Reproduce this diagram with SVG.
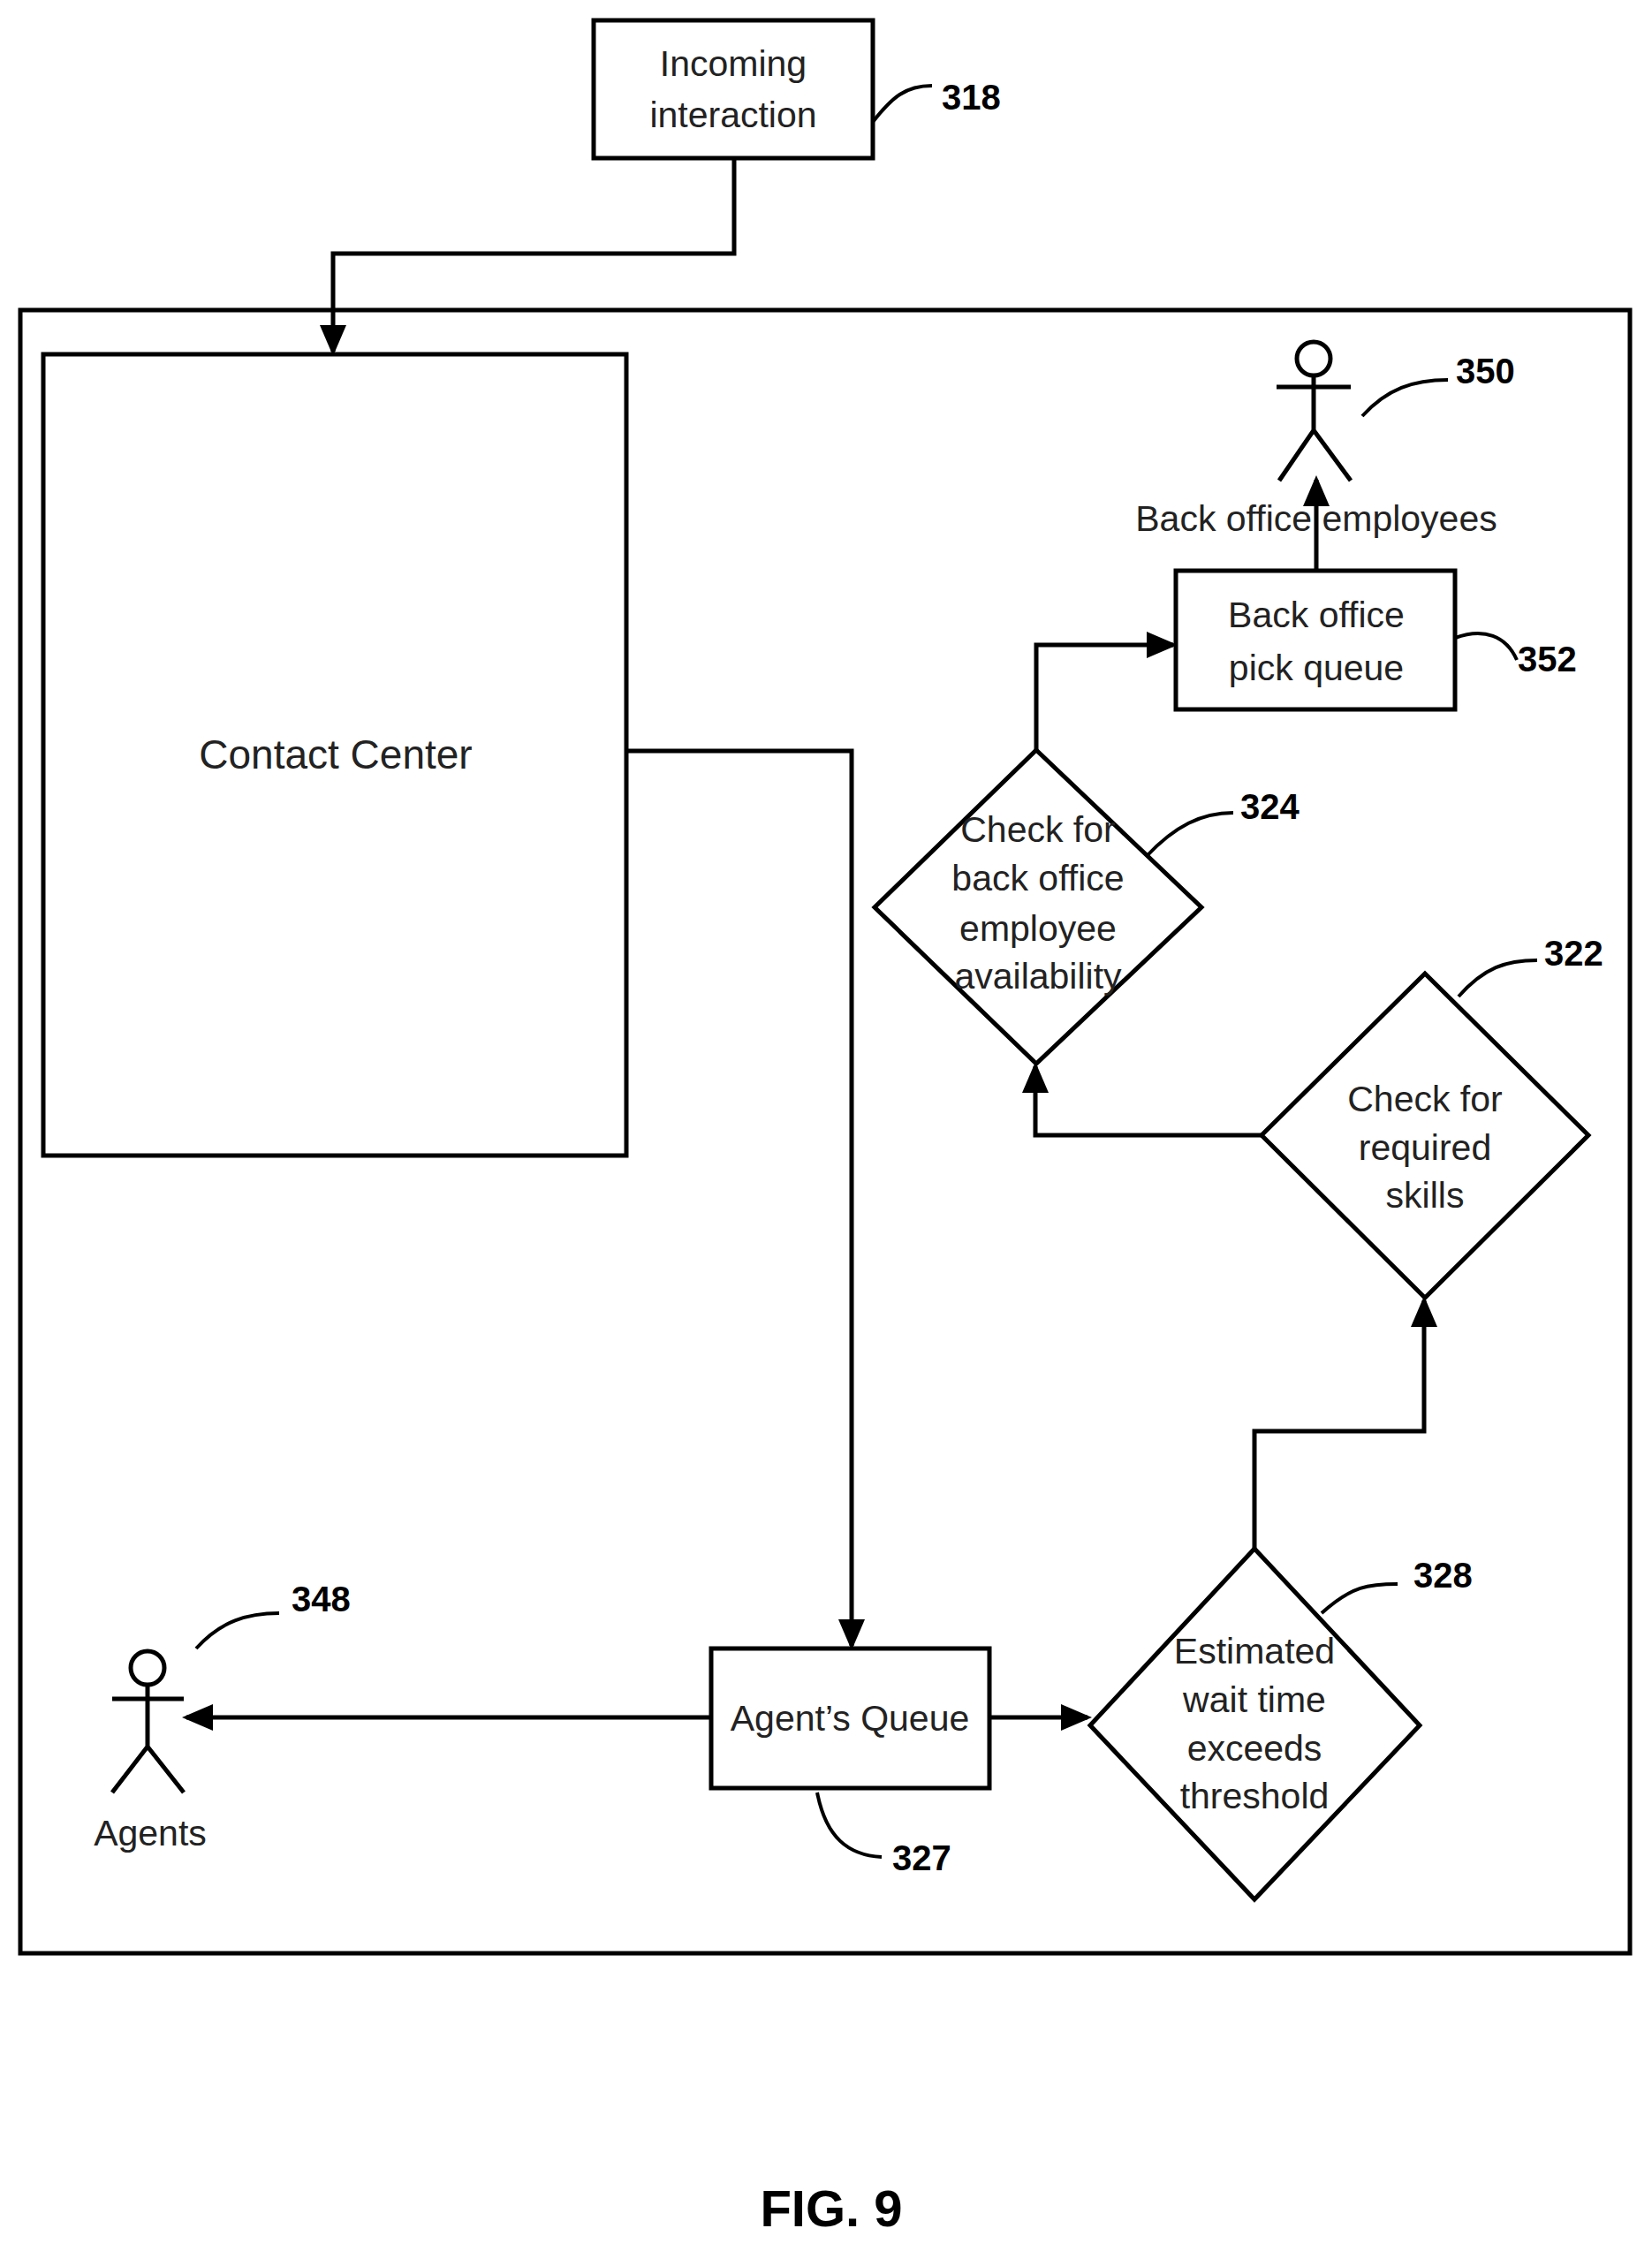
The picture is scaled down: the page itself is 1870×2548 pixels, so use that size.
<svg xmlns="http://www.w3.org/2000/svg" width="1870" height="2548" viewBox="0 0 1870 2548">
<style>
.s{fill:none;stroke:#000;stroke-width:5}
.b{fill:#fff;stroke:#000;stroke-width:5}
.t{font-family:"Liberation Sans Narrow","Liberation Sans",Arial,sans-serif;font-size:41px;fill:#222;text-anchor:middle}
.c{font-family:"Liberation Sans",Arial,sans-serif;font-size:46px;fill:#222;text-anchor:middle}
.n{font-family:"Liberation Sans Narrow","Liberation Sans",Arial,sans-serif;font-size:40px;font-weight:bold;fill:#000}
.l{fill:none;stroke:#000;stroke-width:4}
</style>
<defs><marker id="a" markerWidth="7" markerHeight="6" refX="6" refY="3" orient="auto" markerUnits="strokeWidth"><path d="M0,0 L7,3 L0,6 z" fill="#000"/></marker></defs>
<rect x="23" y="351" width="1822" height="1860" class="s"/>
<g id="incoming"><rect x="672" y="23" width="316" height="156" class="b"/><text class="t" x="830" y="86">Incoming</text><text class="t" x="830" y="144">interaction</text><path class="l" d="M988,138 C1010,110 1025,97 1055,97"/><text class="n" x="1066" y="124">318</text></g>
<g id="contact"><rect x="49" y="401" width="660" height="907" class="b"/><text class="c" x="380" y="870">Contact Center</text></g>
<g id="queue"><rect x="805" y="1866" width="315" height="158" class="b"/><text class="t" x="962" y="1959">Agent’s Queue</text><path class="l" d="M925,2029 C935,2080 960,2100 998,2102"/><text class="n" x="1010" y="2117">327</text></g>
<g id="agents"><circle cx="167" cy="1888" r="19" class="s"/><path class="s" d="M167,1907V1977M127,1923H208M127,2029L167,1977L208,2029"/><text class="t" x="170" y="2089">Agents</text><path class="l" d="M222,1866 C250,1835 280,1826 316,1826"/><text class="n" x="330" y="1824">348</text></g>
<g id="d328"><path class="b" d="M1420,1753L1607,1953L1420,2150L1234,1953Z"/><text class="t" x="1420" y="1883">Estimated</text><text class="t" x="1420" y="1938">wait time</text><text class="t" x="1420" y="1993">exceeds</text><text class="t" x="1420" y="2047">threshold</text><path class="l" d="M1496,1826 C1530,1795 1550,1793 1582,1793"/><text class="n" x="1600" y="1797">328</text></g>
<g id="d322"><path class="b" d="M1613,1102L1798,1285L1613,1469L1428,1285Z"/><text class="t" x="1613" y="1258">Check for</text><text class="t" x="1613" y="1313">required</text><text class="t" x="1613" y="1367">skills</text><path class="l" d="M1651,1128 C1680,1095 1705,1087 1740,1087"/><text class="n" x="1748" y="1093">322</text></g>
<g id="d324"><path class="b" d="M1173,849L1360,1027L1173,1204L990,1027Z"/><text class="t" x="1175" y="953">Check for</text><text class="t" x="1175" y="1008">back office</text><text class="t" x="1175" y="1065">employee</text><text class="t" x="1175" y="1119">availability</text><path class="l" d="M1298,969 C1330,935 1360,920 1396,920"/><text class="n" x="1404" y="927">324</text></g>
<g id="pick"><rect x="1331" y="646" width="316" height="157" class="b"/><text class="t" x="1490" y="710">Back office</text><text class="t" x="1490" y="770">pick queue</text><path class="l" d="M1647,722 C1680,710 1705,720 1717,747"/><text class="n" x="1718" y="760">352</text></g>
<g id="employees"><text class="t" x="1490" y="601">Back office employees</text><circle cx="1487" cy="406" r="19" class="s"/><path class="s" d="M1487,425V487M1445,438H1529M1448,544L1487,487L1529,544"/><path class="l" d="M1542,471 C1570,440 1600,430 1639,430"/><text class="n" x="1648" y="434">350</text></g>
<g id="connectors">
<path class="s" marker-end="url(#a)" d="M831,179V287H377V398"/>
<path class="s" marker-end="url(#a)" d="M709,850H964V1863"/>
<path class="s" marker-end="url(#a)" d="M805,1944H211"/>
<path class="s" marker-end="url(#a)" d="M1120,1944H1231"/>
<path class="s" marker-end="url(#a)" d="M1420,1753V1620H1612V1472"/>
<path class="s" marker-end="url(#a)" d="M1428,1285H1172V1207"/>
<path class="s" marker-end="url(#a)" d="M1173,849V730H1328"/>
<path class="s" marker-end="url(#a)" d="M1490,646V543"/>
</g>
<text x="941" y="2520" style="font-family:'Liberation Sans',Arial,sans-serif;font-size:58px;font-weight:bold;text-anchor:middle">FIG. 9</text>
</svg>
